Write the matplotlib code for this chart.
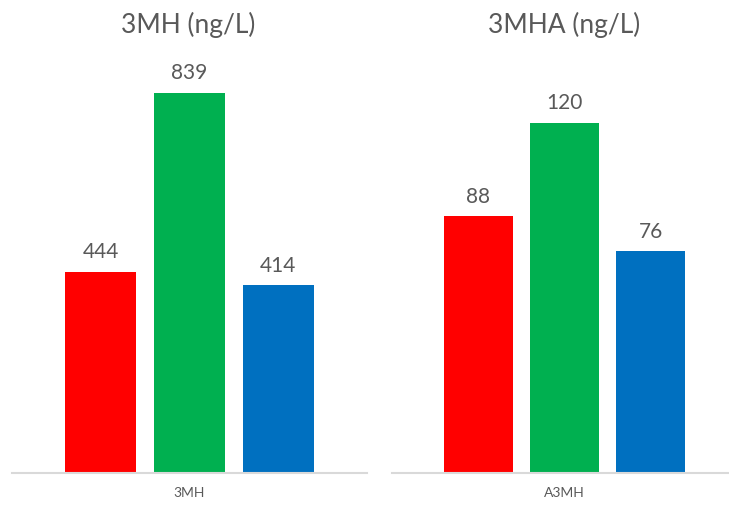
import matplotlib
matplotlib.use("Agg")
import matplotlib.pyplot as plt

# Data
left_title = "3MH (ng/L)"
left_category = "3MH"
left_values = [444, 839, 414]

right_title = "3MHA (ng/L)"
right_category = "A3MH"
right_values = [88, 120, 76]

bar_colors = ["#FF0000", "#00B050", "#0070C0"]
text_color = "#595959"
axis_color = "#D9D9D9"

plt.rcParams["font.family"] = ["Lato", "DejaVu Sans"]

W, H = 729, 505
fig = plt.figure(figsize=(W / 100, H / 100), dpi=100)

base_y = 473  # baseline in pixels from top
top_y = 60


def panel(x0, x1, scale_px, values, title, category, title_x):
    ax = fig.add_axes([x0 / W, (H - base_y) / H, (x1 - x0) / W, (base_y - top_y) / H])
    pos = list(range(len(values)))
    ax.bar(pos, values, width=0.8, color=bar_colors, zorder=2)
    ax.set_xlim(-1, 3)
    ax.set_ylim(0, (base_y - top_y) / scale_px)
    for p, v in zip(pos, values):
        ax.annotate(str(v), (p, v), xytext=(0, 7), textcoords="offset points",
                    ha="center", va="bottom", fontsize=15, color=text_color)
    for s in ["top", "right", "left"]:
        ax.spines[s].set_visible(False)
    ax.spines["bottom"].set_color(axis_color)
    ax.spines["bottom"].set_linewidth(1.5)
    ax.set_yticks([])
    ax.set_xticks([1])
    ax.set_xticklabels([category], fontsize=10, color=text_color)
    ax.tick_params(axis="x", length=0, pad=10)
    fig.text(title_x / W, 1 - 25 / H, title, ha="center", va="center",
             fontsize=19, color=text_color)
    return ax


panel(12, 367, (base_y - 93) / 839, left_values, left_title, left_category, 188)
panel(392, 737, (base_y - 123) / 120, right_values, right_title, right_category, 564)

fig.savefig("out.png", dpi=100, facecolor="white")
